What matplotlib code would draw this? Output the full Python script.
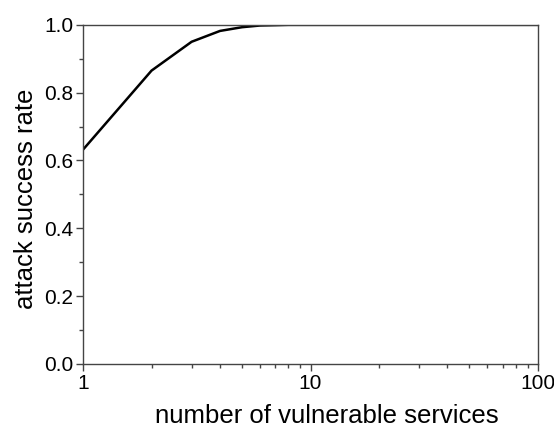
import matplotlib
matplotlib.use('Agg')
import matplotlib.pyplot as plt
from matplotlib.ticker import LogLocator, MultipleLocator, FixedLocator, NullFormatter

plt.rcParams['font.family'] = ['Liberation Sans', 'DejaVu Sans']

services = [1, 2, 3, 4, 5, 6, 7, 8, 9, 10, 20, 30, 40, 50, 60, 70, 80, 90, 100]
success_rate = [0.632, 0.865, 0.950, 0.982, 0.993, 0.998, 0.999, 1.0, 1.0, 1.0,
                1.0, 1.0, 1.0, 1.0, 1.0, 1.0, 1.0, 1.0, 1.0]

fig = plt.figure(figsize=(5.54, 4.28), dpi=100)
ax = fig.add_axes([0.150, 0.150, 0.821, 0.792])

ax.plot(services, success_rate, color='black', lw=1.8)

ax.set_xscale('log')
ax.set_xlim(1, 100)
ax.set_ylim(0, 1.0)
ax.xaxis.set_major_locator(FixedLocator([1, 10, 100]))
ax.xaxis.set_major_formatter(matplotlib.ticker.FixedFormatter(['1', '10', '100']))
ax.xaxis.set_minor_locator(LogLocator(base=10, subs=range(2, 10)))
ax.xaxis.set_minor_formatter(NullFormatter())
ax.yaxis.set_major_locator(MultipleLocator(0.2))
ax.yaxis.set_minor_locator(MultipleLocator(0.1))
ax.yaxis.set_major_formatter(matplotlib.ticker.FormatStrFormatter('%.1f'))

for s in ax.spines.values():
    s.set_color('#444444')
    s.set_linewidth(1.0)
ax.tick_params(which='major', direction='out', length=5, width=1, color='#444444',
               labelsize=15, pad=2)
ax.tick_params(which='minor', direction='out', length=3, width=1, color='#444444')

ax.set_xlabel('number of vulnerable services', fontsize=18.5)
ax.set_ylabel('attack success rate', fontsize=18.5)
ax.xaxis.set_label_coords(0.536, -0.12)
ax.yaxis.set_label_coords(-0.10, 0.487)

fig.savefig('out.png', dpi=100)
